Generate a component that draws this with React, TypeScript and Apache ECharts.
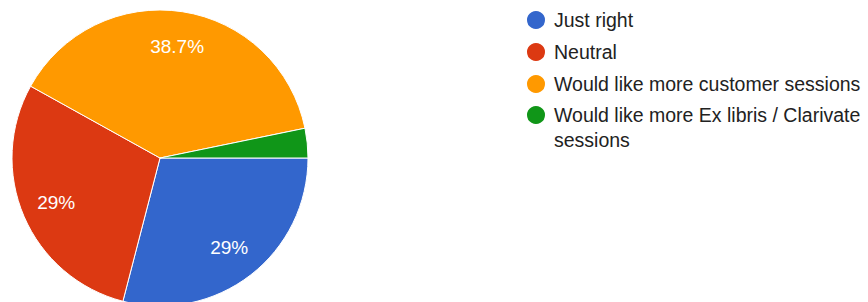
import React, { useEffect, useRef } from "react";
import * as echarts from "echarts";

const categories = [
  "Just right",
  "Neutral",
  "Would like more customer sessions",
  "Would like more Ex libris / Clarivate sessions",
];
const values = [9, 9, 12, 1];
const colors = ["#3366cc", "#dc3912", "#ff9900", "#109618"];
const hiddenLabels = ["Would like more Ex libris / Clarivate sessions"];
const wrappedLegend: Record<string, string> = {
  "Would like more Ex libris / Clarivate sessions": "Would like more Ex libris / Clarivate\nsessions",
};

const FONT = "'Liberation Sans', Arial, sans-serif";

export default function App() {
  const ref = useRef<HTMLDivElement>(null);
  useEffect(() => {
    if (!ref.current) return;
    const chart = echarts.init(ref.current, undefined, { renderer: "svg" });
    const total = values.reduce((a, b) => a + b, 0);
    const mainData = categories.map((name, i) => ({
      name,
      value: values[i],
      itemStyle: { color: colors[i] },
    }));
    const labelData = categories.map((name, i) => ({
      name,
      value: values[i],
      label: { show: !hiddenLabels.includes(name) },
    }));
    const singleLine = categories.filter((c) => !wrappedLegend[c]);
    const multiLine = categories.filter((c) => wrappedLegend[c]);
    const legendBase = {
      orient: "vertical",
      left: 525,
      padding: 0,
      itemGap: 7,
      itemWidth: 20,
      itemHeight: 20,
      icon: "circle",
      selectedMode: false,
      textStyle: {
        fontFamily: FONT,
        fontSize: 19.5,
        lineHeight: 25,
        color: "#222222",
        padding: [0, 0, 0, 3],
      },
    };
    chart.setOption({
      animation: false,
      legend: [
        { ...legendBase, top: 7.5, data: singleLine },
        {
          ...legendBase,
          top: 77.5,
          data: multiLine,
          formatter: (name: string) => " \n" + (wrappedLegend[name] || name),
        },
      ],
      series: [
        {
          type: "pie",
          center: [160, 158],
          radius: [0, 148],
          startAngle: 0,
          clockwise: true,
          label: { show: false },
          labelLine: { show: false },
          itemStyle: { borderColor: "#ffffff", borderWidth: 1 },
          emphasis: { disabled: true },
          data: mainData,
        },
        {
          type: "pie",
          center: [160, 158],
          radius: [72, 148],
          startAngle: 0,
          clockwise: true,
          silent: true,
          itemStyle: { color: "transparent" },
          emphasis: { disabled: true },
          labelLine: { show: false },
          label: {
            show: true,
            position: "inside",
            color: "#ffffff",
            fontFamily: FONT,
            fontSize: 19,
            formatter: (p: any) => `${parseFloat(((p.value / total) * 100).toFixed(1))}%`,
          },
          data: labelData,
        },
      ],
    });
    return () => chart.dispose();
  }, []);
  return (
    <div
      ref={ref}
      style={{ position: "absolute", left: 0, top: 0, width: 868, height: 302, background: "#ffffff" }}
    />
  );
}
